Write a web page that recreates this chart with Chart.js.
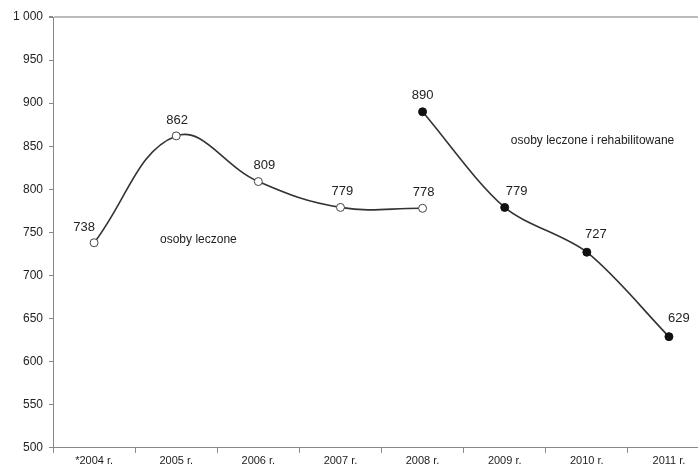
<!DOCTYPE html>
<html>
<head>
<meta charset="utf-8">
<script src="https://cdn.jsdelivr.net/npm/chart.js@4"></script>
<style>
  html, body { margin: 0; padding: 0; background: #fff; overflow: hidden; }
  #wrap { width: 715px; height: 470px; }
</style>
</head>
<body>
<div id="wrap"><canvas id="c"></canvas></div>
<script>
const years = ["*2004 r.", "2005 r.", "2006 r.", "2007 r.", "2008 r.", "2009 r.", "2010 r.", "2011 r."];
const leczone = [738, 862, 809, 779, 778, null, null, null];
const rehab = [null, null, null, null, 890, 779, 727, 629];
const notes = [
  { text: "osoby leczone", x: 1.27, y: 741 },
  { text: "osoby leczone i rehabilitowane", x: 6.07, y: 857 }
];

const font = "Liberation Sans, Arial, sans-serif";
const fmt = (v) => (v >= 1000 ? "1 000" : String(v));

// small label nudges (px) per dataset/point, as in the original layout
const nudgeX = [[-10, 1, 6, 2, 1, 0, 0, 0], [0, 0, 0, 0, 0, 12, 9, 10]];
const nudgeY = [[-15, -15, -16, -16, -16, 0, 0, 0], [0, 0, 0, 0, -16, -16, -18, -18]];

const labelsPlugin = {
  id: "labels",
  afterDatasetsDraw(chart) {
    const ctx = chart.ctx;
    const xs = chart.scales.x, ys = chart.scales.y;
    ctx.save();
    ctx.fillStyle = "#222";
    ctx.font = "13px " + font;
    ctx.textAlign = "center";
    ctx.textBaseline = "middle";
    chart.data.datasets.forEach((ds, di) => {
      chart.getDatasetMeta(di).data.forEach((pt, i) => {
        const v = ds.data[i];
        if (v == null) return;
        ctx.fillText(String(v), pt.x + nudgeX[di][i], pt.y + nudgeY[di][i]);
      });
    });
    ctx.font = "12px " + font;
    notes.forEach((n) => {
      ctx.fillText(n.text, xs.getPixelForValue(n.x), ys.getPixelForValue(n.y));
    });
    ctx.restore();
  }
};

new Chart(document.getElementById("c"), {
  type: "line",
  data: {
    labels: years,
    datasets: [{
      data: leczone,
      borderColor: "#333",
      borderWidth: 1.6,
      tension: 0.4,
      pointRadius: 4,
      pointBackgroundColor: "#fff",
      pointBorderColor: "#444",
      pointBorderWidth: 1
    }, {
      data: rehab,
      borderColor: "#333",
      borderWidth: 1.6,
      tension: 0.3,
      pointRadius: 4,
      pointBackgroundColor: "#111",
      pointBorderColor: "#111",
      pointBorderWidth: 1
    }]
  },
  options: {
    responsive: true,
    maintainAspectRatio: false,
    animation: false,
    layout: { padding: { top: 17, left: 7, right: 0, bottom: 0 } },
    plugins: { legend: { display: false }, tooltip: { enabled: false } },
    scales: {
      x: {
        offset: true,
        grid: {
          offset: true,
          drawOnChartArea: false,
          tickLength: 5,
          tickColor: "#888"
        },
        border: { color: "#888", width: 1 },
        ticks: { color: "#222", font: { family: font, size: 11 }, padding: 2, maxRotation: 0, autoSkip: false }
      },
      y: {
        min: 500,
        max: 1000,
        ticks: {
          stepSize: 50,
          color: "#222",
          font: { family: font, size: 12 },
          padding: 6,
          callback: (v) => fmt(v)
        },
        grid: {
          color: (c) => (c.tick && c.tick.value === 1000 ? "#bbb" : "rgba(0,0,0,0)"),
          lineWidth: (c) => (c.tick && c.tick.value === 1000 ? 2 : 1),
          tickColor: "#888",
          tickLength: 4
        },
        border: { color: "#888", width: 1 }
      }
    }
  },
  plugins: [labelsPlugin]
});
</script>
</body>
</html>
